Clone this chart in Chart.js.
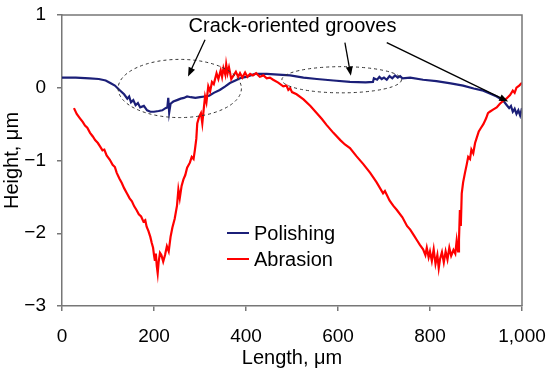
<!DOCTYPE html>
<html>
<head>
<meta charset="UTF-8">
<script src="https://cdn.jsdelivr.net/npm/chart.js"></script>
<title>Height profile</title>
<style>
  html, body { margin: 0; padding: 0; background: #fff; }
</style>
</head>
<body>
<canvas id="profile" width="550" height="375"></canvas>
<script>
// values (length in um, height in um)
var polishX = [0, 30, 60, 80, 95, 105, 115, 125, 135, 142, 146, 150, 155, 160, 165, 170, 178, 185, 192, 200,
  210, 218, 225, 229, 231, 233, 236, 242, 250, 258, 265, 272, 280, 290, 300, 310, 320, 330, 343, 355,
  365, 377, 387, 400, 420, 445, 470, 496, 525, 554, 590, 626, 660, 676, 678, 685, 690, 695, 700, 706,
  712, 718, 724, 730, 735, 740, 757, 785, 814, 845, 872, 895, 916, 930, 945, 955, 962, 967, 972, 976,
  980, 984, 988, 992, 996, 1000];
var polishY = [0.14, 0.14, 0.13, 0.12, 0.10, 0.065, 0.03, -0.03, -0.09, -0.15, -0.12, -0.20, -0.17, -0.24, -0.21, -0.27, -0.25, -0.31, -0.33, -0.33,
  -0.32, -0.31, -0.28, -0.27, -0.14, -0.34, -0.22, -0.19, -0.17, -0.15, -0.14, -0.12, -0.13, -0.14, -0.13, -0.12, -0.11, -0.07, -0.03, 0.02,
  0.065, 0.10, 0.13, 0.15, 0.19, 0.19, 0.18, 0.17, 0.14, 0.12, 0.10, 0.08, 0.075, 0.08, 0.13, 0.11, 0.15, 0.12, 0.14, 0.11,
  0.16, 0.13, 0.17, 0.14, 0.16, 0.13, 0.14, 0.11, 0.09, 0.06, 0.03, -0.01, -0.04, -0.08, -0.12, -0.16, -0.20, -0.24, -0.28, -0.25,
  -0.33, -0.29, -0.36, -0.31, -0.38, -0.28];

var abrasX = [26, 32, 39, 45, 50, 55, 61, 67, 72, 78, 83, 88, 92, 97, 104, 110, 115, 119, 125, 130,
  135, 141, 147, 152, 157, 162, 167, 172, 177, 181, 184, 188, 192, 195, 198, 200, 202, 204, 206, 208,
  210, 213, 216, 220, 224, 228, 232, 236, 240, 245, 250, 253, 256, 260, 264, 268, 272, 278, 282, 286,
  289, 292, 294, 298, 302, 305, 308, 311, 314, 318, 322, 326, 330, 336, 340, 345, 348, 351, 355, 357,
  360, 363, 368, 372, 378, 383, 387, 392, 398, 403, 409, 415, 422, 430, 438, 445, 452, 459, 470, 481,
  488, 492, 496, 500, 510, 525, 540, 554, 565, 575, 590, 605, 615, 626, 640, 655, 670, 684, 698, 702,
  712, 720, 728, 740, 750, 757, 765, 772, 778, 785, 790, 793, 797, 800, 804, 808, 812, 816, 819, 822,
  826, 830, 834, 838, 842, 846, 851, 855, 858, 861, 863, 865, 867, 869, 872, 876, 880, 883, 887, 890,
  894, 898, 901, 906, 911, 916, 922, 926, 930, 937, 945, 952, 959, 966, 974, 980, 984, 988, 994, 1000];
var abrasY = [-0.28, -0.36, -0.42, -0.47, -0.52, -0.55, -0.62, -0.67, -0.72, -0.76, -0.81, -0.86, -0.85, -0.93, -0.99, -1.06, -1.09, -1.17, -1.25, -1.31,
  -1.38, -1.45, -1.52, -1.56, -1.63, -1.68, -1.74, -1.77, -1.84, -1.82, -1.91, -1.97, -2.05, -2.13, -2.20, -2.30, -2.38, -2.28, -2.45, -2.55,
  -2.40, -2.27, -2.30, -2.39, -2.30, -2.18, -2.25, -2.05, -1.92, -1.80, -1.62, -1.40, -1.52, -1.35, -1.26, -1.20, -1.10, -1.03, -0.95, -0.98,
  -0.85, -0.70, -0.49, -0.40, -0.35, -0.49, -0.30, -0.12, -0.20, 0.02, -0.05, 0.08, 0.05, 0.20, 0.12, 0.24, 0.15, 0.27, 0.18, 0.32,
  0.20, 0.28, 0.12, 0.16, 0.22, 0.15, 0.20, 0.14, 0.21, 0.15, 0.19, 0.17, 0.20, 0.15, 0.17, 0.13, 0.14, 0.11, 0.07, 0.02,
  0.03, -0.03, -0.005, -0.06, -0.09, -0.16, -0.25, -0.35, -0.43, -0.51, -0.62, -0.72, -0.78, -0.83, -0.94, -1.05, -1.17, -1.30, -1.45, -1.42,
  -1.55, -1.62, -1.68, -1.78, -1.90, -1.95, -2.03, -2.10, -2.16, -2.22, -2.30, -2.20, -2.33, -2.25, -2.38, -2.22, -2.42, -2.30, -2.48, -2.35,
  -2.26, -2.40, -2.25, -2.36, -2.20, -2.31, -2.23, -2.28, -2.10, -2.25, -2.09, -1.68, -1.90, -1.45, -1.30, -1.17, -1.05, -0.95, -0.98, -0.85,
  -0.90, -0.76, -0.70, -0.60, -0.55, -0.50, -0.42, -0.35, -0.33, -0.30, -0.27, -0.22, -0.18, -0.15, -0.10, -0.04, -0.07, 0.00, 0.03, 0.07];

var xTicks = [0, 200, 400, 600, 800, 1000];
var yTicks = [-3, -2, -1, 0, 1];

// annotation (data coordinates)
var noteText = 'Crack-oriented grooves';
var notePos = [501, 0.76];
var ellipses = [[256, -0.01, 134, 0.40], [608, 0.11, 130, 0.18]];   // cx, cy, rx, ry
var arrows = [[311, 0.66, 274, 0.155], [615, 0.62, 628, 0.165], [706, 0.62, 970, -0.19]];

var FONT = "'Liberation Sans', Arial, sans-serif";

var pts = function(xs, ys) {
    var out = [];
    for (var i = 0; i < xs.length; i++) out.push({x: xs[i], y: ys[i]});
    return out;
};

var extras = {
    id: 'extras',
    afterDatasetsDraw: function(chart) {
        var ctx = chart.ctx, a = chart.chartArea;
        var sx = chart.scales.x, sy = chart.scales.y;
        ctx.save();
        // box top/right
        ctx.strokeStyle = '#777';
        ctx.lineWidth = 1.5;
        ctx.beginPath();
        ctx.moveTo(a.left, a.top); ctx.lineTo(a.right, a.top); ctx.lineTo(a.right, a.bottom);
        ctx.stroke();

        // dashed ellipses
        ctx.strokeStyle = '#333';
        ctx.lineWidth = 1;
        ctx.setLineDash([3, 3]);
        ellipses.forEach(function(e) {
            var cx = sx.getPixelForValue(e[0]), cy = sy.getPixelForValue(e[1]);
            var rx = sx.getPixelForValue(e[0] + e[2]) - cx;
            var ry = cy - sy.getPixelForValue(e[1] + e[3]);
            ctx.beginPath();
            ctx.ellipse(cx, cy, rx, ry, 0, 0, Math.PI * 2);
            ctx.stroke();
        });
        ctx.setLineDash([]);

        // arrows
        ctx.strokeStyle = '#000';
        ctx.fillStyle = '#000';
        ctx.lineWidth = 1.3;
        arrows.forEach(function(r) {
            var x1 = sx.getPixelForValue(r[0]), y1 = sy.getPixelForValue(r[1]);
            var x2 = sx.getPixelForValue(r[2]), y2 = sy.getPixelForValue(r[3]);
            var ang = Math.atan2(y2 - y1, x2 - x1);
            ctx.beginPath();
            ctx.moveTo(x1, y1);
            ctx.lineTo(x2 - 6 * Math.cos(ang), y2 - 6 * Math.sin(ang));
            ctx.stroke();
            ctx.beginPath();
            ctx.moveTo(x2, y2);
            ctx.lineTo(x2 - 9 * Math.cos(ang) + 3.5 * Math.sin(ang), y2 - 9 * Math.sin(ang) - 3.5 * Math.cos(ang));
            ctx.lineTo(x2 - 9 * Math.cos(ang) - 3.5 * Math.sin(ang), y2 - 9 * Math.sin(ang) + 3.5 * Math.cos(ang));
            ctx.closePath();
            ctx.fill();
        });

        // note text
        ctx.font = '20px ' + FONT;
        ctx.textAlign = 'center';
        ctx.textBaseline = 'alphabetic';
        ctx.fillText(noteText, sx.getPixelForValue(notePos[0]), sy.getPixelForValue(notePos[1]));

        // legend inside the plot
        var lx = a.left + 165, ly = a.top + 218;
        chart.data.datasets.forEach(function(ds, i) {
            var y = ly + i * 26;
            ctx.strokeStyle = ds.borderColor;
            ctx.lineWidth = 2;
            ctx.beginPath();
            ctx.moveTo(lx, y); ctx.lineTo(lx + 22, y);
            ctx.stroke();
            ctx.fillStyle = '#000';
            ctx.textAlign = 'left';
            ctx.textBaseline = 'middle';
            ctx.fillText(ds.label, lx + 27, y + 1);
        });
        ctx.restore();
    }
};

new Chart(document.getElementById('profile'), {
    type: 'line',
    data: {
        datasets: [
            { label: 'Polishing', data: pts(polishX, polishY), borderColor: '#1b1f78', borderWidth: 2.2,
              pointRadius: 0, tension: 0, order: 1 },
            { label: 'Abrasion', data: pts(abrasX, abrasY), borderColor: '#ff0000', borderWidth: 2.2,
              pointRadius: 0, tension: 0, order: 0 }
        ]
    },
    options: {
        responsive: false,
        animation: false,
        layout: { padding: { top: 15, right: 28, left: 0, bottom: 0 } },
        plugins: { legend: { display: false }, tooltip: { enabled: false } },
        scales: {
            x: {
                type: 'linear', min: 0, max: 1000,
                afterBuildTicks: function(s) { s.ticks = xTicks.map(function(v) { return {value: v}; }); },
                afterFit: function(s) { s.height = 69; s.paddingLeft = 0; s.paddingRight = 0; },
                grid: { drawOnChartArea: false, drawTicks: true, tickLength: 5, color: '#777', lineWidth: 1.5 },
                border: { color: '#777', width: 1.5 },
                ticks: { color: '#000', font: { family: FONT, size: 19 }, padding: 14,
                         callback: function(v) { return v.toLocaleString('en-US'); } },
                title: { display: true, text: 'Length, μm', color: '#000', font: { family: FONT, size: 20 },
                         padding: { top: 0, bottom: 5 } }
            },
            y: {
                min: -3, max: 1,
                afterBuildTicks: function(s) { s.ticks = yTicks.map(function(v) { return {value: v}; }); },
                afterFit: function(s) { s.width = 62; s.paddingTop = 0; s.paddingBottom = 0; },
                grid: { drawOnChartArea: false, drawTicks: true, tickLength: 5, color: '#777', lineWidth: 1.5 },
                border: { color: '#777', width: 1.5 },
                ticks: { color: '#000', font: { family: FONT, size: 19 }, padding: 11,
                         callback: function(v) { return String(v).replace('-', '\u2212'); } },
                title: { display: true, text: 'Height, μm', color: '#000', font: { family: FONT, size: 20 },
                         padding: { top: 0, bottom: 0 } }
            }
        }
    },
    plugins: [extras]
});
</script>
</body>
</html>
